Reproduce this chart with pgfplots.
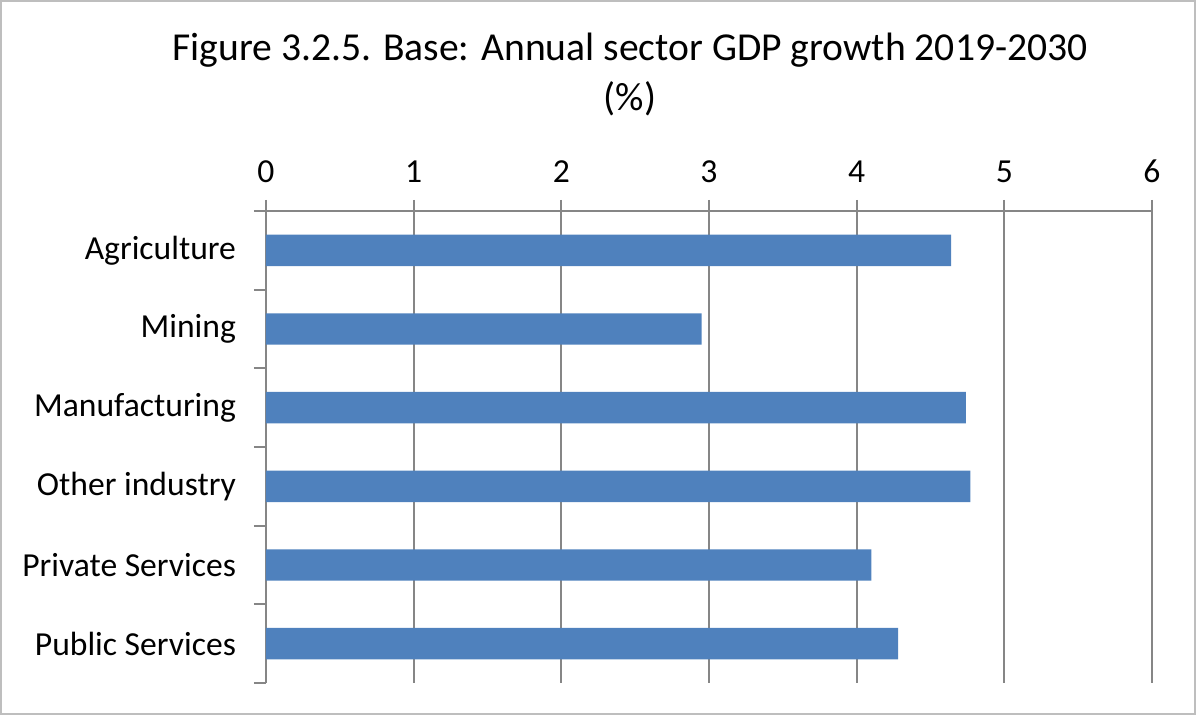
\documentclass[border=0pt]{standalone}
\usepackage{fontspec}
\setmainfont{Carlito}
\usepackage{pgfplots}
\pgfplotsset{compat=1.18}
\definecolor{barblue}{RGB}{79,129,189}
\definecolor{gridgray}{RGB}{134,134,134}
\definecolor{framegray}{RGB}{190,190,190}
\begin{document}
\begin{tikzpicture}
  % outer chart frame, 1 px = 0.5pt
  \draw[framegray, line width=0.8pt] (-132.6pt,-15.6pt) rectangle (464.6pt,341.1pt);
  \begin{axis}[
      at={(0,0)}, anchor=south west,
      scale only axis,
      width=443pt, height=236pt,
      xmin=0, xmax=6,
      ymin=-0.5, ymax=5.5,
      y dir=reverse,
      axis x line=top,
      axis y line=left,
      axis line style={-, gridgray, line width=1pt},
      xtick={0,1,...,6},
      xmajorgrids,
      major grid style={gridgray, line width=1pt},
      tick align=outside,
      major tick length=5.5pt,
      minor tick length=6pt,
      xtick style={gridgray, line width=1pt},
      ytick style={gridgray, line width=1pt},
      every major y tick/.append style={draw=none},
      ytick={0,1,2,3,4,5},
      yticklabels={Agriculture,Mining,Manufacturing,Other industry,Private Services,Public Services},
      minor ytick={-0.5,0.5,1.5,2.5,3.5,4.5,5.5},
      tick label style={font=\fontsize{16.8}{20}\selectfont},
      /pgf/number format/assume math mode=true,
      yticklabel style={xshift=-6pt},
      xticklabel style={yshift=5pt},
      xbar,
      bar width=0.4,
      clip=false,
    ]
    \addplot[fill=barblue, draw=none] coordinates {
      (4.64,0) (2.95,1) (4.74,2) (4.77,3) (4.10,4) (4.28,5)
    };
  \end{axis}
  \node[align=center, font=\fontsize{19.8}{25}\selectfont] at (182pt,304pt)
    {Figure 3.2.5. Base: Annual sector GDP growth 2019-2030\\(\%)};
\end{tikzpicture}
\end{document}
